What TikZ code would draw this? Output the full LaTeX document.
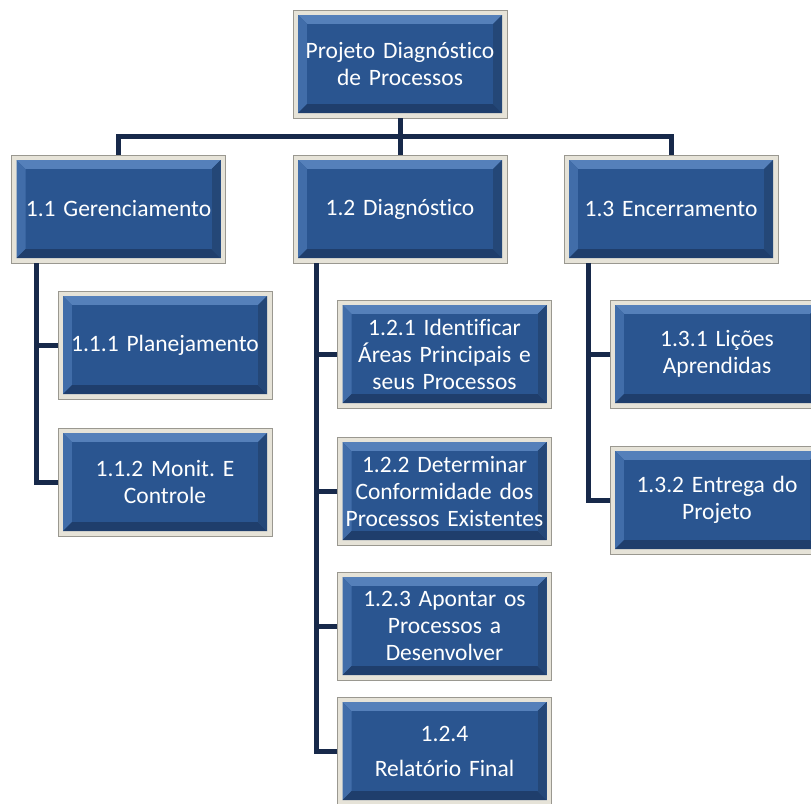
\documentclass[tikz,border=0pt]{standalone}
\usepackage{fontspec}
\setmainfont{Carlito}[Ligatures=NoCommon,WordSpace=0.75]
\frenchspacing

\definecolor{framecol}{HTML}{E6E3D8}
\definecolor{framedark}{HTML}{9A9890}
\definecolor{faceblue}{HTML}{2A5590}
\definecolor{bevtop}{HTML}{5580BA}
\definecolor{bevleft}{HTML}{416DA9}
\definecolor{bevbot}{HTML}{1F3E6C}
\definecolor{bevright}{HTML}{244777}
\definecolor{linecol}{HTML}{17294A}

\tikzset{
  wbs/.style={rectangle, draw=framedark, line width=.6pt,
    minimum width=214pt, minimum height=108pt, text width=208pt,
    inner sep=1pt, align=center, text=white,
    font=\fontsize{23.5}{27}\selectfont,
    path picture={
      \path (path picture bounding box.south west) coordinate (sw)
            (path picture bounding box.north east) coordinate (ne)
            (path picture bounding box.north west) coordinate (nw)
            (path picture bounding box.south east) coordinate (se);
      \fill[framecol] (sw) rectangle (ne);
      \fill[faceblue] ([shift={(5pt,5pt)}]sw) rectangle ([shift={(-5pt,-5pt)}]ne);
      \fill[bevtop] ([shift={(5pt,-5pt)}]nw) -- ([shift={(-5pt,-5pt)}]ne)
        -- ([shift={(-14pt,-14pt)}]ne) -- ([shift={(14pt,-14pt)}]nw) -- cycle;
      \fill[bevleft] ([shift={(5pt,-5pt)}]nw) -- ([shift={(5pt,5pt)}]sw)
        -- ([shift={(14pt,14pt)}]sw) -- ([shift={(14pt,-14pt)}]nw) -- cycle;
      \fill[bevbot] ([shift={(5pt,5pt)}]sw) -- ([shift={(-5pt,5pt)}]se)
        -- ([shift={(-14pt,14pt)}]se) -- ([shift={(14pt,14pt)}]sw) -- cycle;
      \fill[bevright] ([shift={(-5pt,-5pt)}]ne) -- ([shift={(-5pt,5pt)}]se)
        -- ([shift={(-14pt,14pt)}]se) -- ([shift={(-14pt,-14pt)}]ne) -- cycle;
      \fill[faceblue] ([shift={(14pt,14pt)}]sw) rectangle ([shift={(-14pt,-14pt)}]ne);
    }},
  conn/.style={draw=linecol, line width=5pt}
}

\begin{document}
\begin{tikzpicture}[x=1pt,y=-1pt]
  \clip (0,0) rectangle (811,803);
  \fill[white] (0,0) rectangle (811,803);
  \node[wbs] (p) at (400,64) {Projeto Diagnóstico\\de Processos};
  \node[wbs] (g1) at (118.5,209) {1.1 Gerenciamento};
  \node[wbs] (g2) at (400,209) {1.2 Diagnóstico};
  \node[wbs] (g3) at (671,209) {1.3 Encerramento};
  \node[wbs] (g11) at (165,345) {1.1.1 Planejamento};
  \node[wbs] (g12) at (165,482) {1.1.2 Monit. E\\Controle};
  \node[wbs] (g21) at (444.5,354) {1.2.1 Identificar\\Áreas Principais e\\seus Processos};
  \node[wbs] (g22) at (444.5,491) {1.2.2 Determinar\\Conformidade dos\\Processos Existentes};
  \node[wbs] (g23) at (444.5,626) {1.2.3 Apontar os\\Processos a\\Desenvolver};
  \node[wbs] (g24) at (444.5,751) {1.2.4\\[8pt]Relatório Final};
  \node[wbs] (g31) at (717,354) {1.3.1 Lições\\Aprendidas};
  \node[wbs] (g32) at (717,500) {1.3.2 Entrega do\\Projeto};
  \coordinate (bar) at (400,136);
  % first level
  \draw[conn] (p) -- (bar) -| (g1.north);
  \draw[conn] (bar) -| (g3.north);
  \draw[conn] (bar) -- (g2.north);
  % second level
  \draw[conn] ([xshift=-82.5pt]g1.south) |- (g11.west);
  \draw[conn] ([xshift=-82.5pt]g1.south) |- (g12.west);
  \draw[conn] ([xshift=-84pt]g2.south) |- (g21.west);
  \draw[conn] ([xshift=-84pt]g2.south) |- (g22.west);
  \draw[conn] ([xshift=-84pt]g2.south) |- (g23.west);
  \draw[conn] ([xshift=-84pt]g2.south) |- (g24.west);
  \draw[conn] ([xshift=-83pt]g3.south) |- (g31.west);
  \draw[conn] ([xshift=-83pt]g3.south) |- (g32.west);
\end{tikzpicture}
\end{document}
